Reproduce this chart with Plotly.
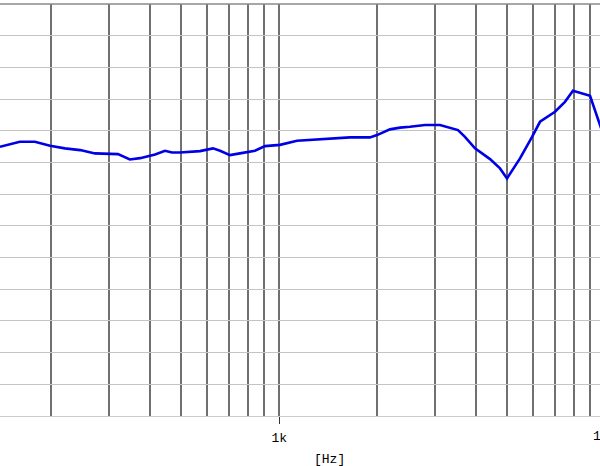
import plotly.graph_objects as go

# frequency response
freq_hz = [139, 160, 178, 198, 220, 245, 272, 298, 320, 348, 374, 416, 446, 469, 496,
           571, 626, 658, 706, 757, 842, 904, 1005, 1133, 1242, 1431, 1648, 1897, 1994,
           2185, 2346, 2517, 2799, 3111, 3339, 3533, 3711, 3984, 4430, 4753, 4994, 5474,
           5961, 6305, 7010, 7520, 7958, 8978, 9632, 10050]
level_db = [-2.53, -1.74, -1.74, -2.37, -2.78, -3.05, -3.57, -3.57, -3.68, -4.52, -4.32,
            -3.73, -3.16, -3.42, -3.42, -3.21, -2.78, -3.16, -3.84, -3.57, -3.16, -2.42,
            -2.22, -1.58, -1.47, -1.27, -1.05, -1.05, -0.68, 0.22, 0.5, 0.63, 0.9, 0.9,
            0.47, 0.11, -0.95, -2.78, -4.47, -5.94, -7.52, -4.36, -0.95, 1.42, 3.0, 4.57,
            6.31, 5.52, 0.9, -1.88]

major_ticks = [1000]
major_labels = ["1k"]
minor_ticks = [200, 300, 400, 500, 600, 700, 800, 900,
               2000, 3000, 4000, 5000, 6000, 7000, 8000, 9000]

font = dict(family="Liberation Mono", size=13, color="black")

fig = go.Figure()
fig.add_trace(go.Scatter(x=freq_hz, y=level_db, mode="lines",
                         line=dict(color="#0000e6", width=2.6)))

fig.update_layout(
    width=600, height=466,
    margin=dict(l=0, r=0, t=4, b=50),
    plot_bgcolor="white", paper_bgcolor="white",
    showlegend=False, font=font,
)
fig.update_xaxes(
    type="log", range=[2.1433, 3.9837],
    tickmode="array", tickvals=major_ticks, ticktext=major_labels,
    ticks="outside", ticklen=7, tickwidth=1, tickcolor="#333333",
    ticklabelstandoff=2,
    showgrid=True, gridcolor="#707070", gridwidth=1.5,
    minor=dict(tickmode="array", tickvals=minor_ticks, ticks="",
               showgrid=True, gridcolor="#707070", gridwidth=1.5),
    showline=True, linecolor="#cccccc", linewidth=1.3, zeroline=False,
)
fig.update_yaxes(
    range=[-45, 20], dtick=5, showticklabels=False, ticks="",
    showgrid=True, gridcolor="#c4c4c4", gridwidth=1.3,
    zeroline=False, showline=False,
)

# darker frame line on top
fig.add_shape(type="line", xref="paper", yref="paper", x0=0, x1=1, y0=1, y1=1,
              line=dict(color="#8a8a8a", width=1.5))

# the 10k label is cut by the right edge in the reference; only its "1" shows
fig.add_annotation(text="1", xref="paper", yref="paper", x=597 / 600, y=-0.05,
                   xanchor="center", yanchor="middle", showarrow=False, font=font)
fig.add_annotation(text="[Hz]", xref="paper", yref="paper", x=329 / 600, y=-0.105,
                   xanchor="center", yanchor="middle", showarrow=False, font=font)

fig.write_html("out.html", config={"displayModeBar": False},
               post_script="document.body.style.margin = '0';")
